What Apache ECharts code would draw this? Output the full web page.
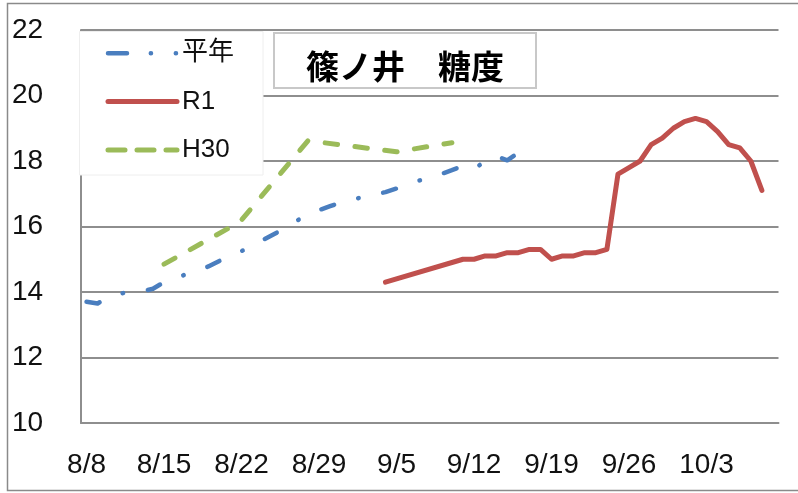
<!DOCTYPE html>
<html>
<head>
<meta charset="utf-8">
<script src="https://cdn.jsdelivr.net/npm/echarts@6/dist/echarts.min.js"></script>
<style>
html,body{margin:0;padding:0;background:#fff;}
#chart{width:798px;height:493px;}
</style>
</head>
<body>
<div id="chart"></div>
<script>
// ---- data ----
const titleText = '篠ノ井　糖度';
const seriesNames = ['平年', 'R1', 'H30'];
const yTicks = [10, 12, 14, 16, 18, 20, 22];
const xTickLabels = ['8/8', '8/15', '8/22', '8/29', '9/5', '9/12', '9/19', '9/26', '10/3'];

// 平年: daily values from 8/8 to 9/16
const avgValues = [13.7, 13.65, 13.85, 13.95, 14.0, 14.02, 14.1, 14.3, 14.42, 14.54,
  14.66, 14.78, 14.95, 15.1, 15.25, 15.4, 15.6, 15.78, 15.96, 16.18,
  16.36, 16.5, 16.62, 16.74, 16.82, 16.9, 16.97, 17.05, 17.16, 17.3,
  17.4, 17.49, 17.6, 17.72, 17.85, 17.75, 18.0, 18.15, 18.02, 18.25];

// R1
const r1Dates = ['9/4', '9/11', '9/12', '9/13', '9/14', '9/15', '9/16', '9/17', '9/18', '9/19',
  '9/20', '9/21', '9/22', '9/23', '9/24', '9/25', '9/26', '9/27', '9/28', '9/29',
  '9/30', '10/1', '10/2', '10/3', '10/4', '10/5', '10/6', '10/7', '10/8'];
const r1Values = [14.3, 15.0, 15.0, 15.1, 15.1, 15.2, 15.2, 15.3, 15.3, 15.0,
  15.1, 15.1, 15.2, 15.2, 15.3, 17.6, 17.8, 18.0, 18.5, 18.7,
  19.0, 19.2, 19.3, 19.2, 18.9, 18.5, 18.4, 18.0, 17.1];

// H30
const h30Dates = ['8/15', '8/21', '8/22', '8/28', '9/5', '9/10'];
const h30Values = [14.85, 15.98, 16.2, 18.62, 18.28, 18.56];

// daily categories 8/8 .. 10/9
const categories = [];
(function () {
  const d = new Date(2019, 7, 8);
  for (let i = 0; i < 63; i++) {
    categories.push((d.getMonth() + 1) + '/' + d.getDate());
    d.setDate(d.getDate() + 1);
  }
})();

const pair = (dates, vals) => dates.map((c, i) => [c, vals[i]]);

const BLUE = '#4a7ebf', RED = '#c0504d', GREEN = '#9bbb59';
const GRID = '#8e8e8e';
const NUMFONT = 'Liberation Sans';
const NOSYM = { color: 'rgba(0,0,0,0)', borderWidth: 0, opacity: 0 };

const chart = echarts.init(document.getElementById('chart'), null, { renderer: 'canvas' });
chart.setOption({
  animation: false,
  backgroundColor: '#fff',
  title: {
    text: titleText,
    left: 274, top: 33,
    padding: [13, 32, 2, 32],
    backgroundColor: '#fff',
    borderColor: '#c8c8c8',
    borderWidth: 2,
    z: 10,
    textStyle: { fontSize: 33, fontWeight: 'bold', color: '#000', fontFamily: 'Noto Sans CJK JP', lineHeight: 40 }
  },
  grid: { left: 81, top: 30, width: 697.5, height: 393 },
  graphic: [
    { type: 'rect', z: 0, silent: true,
      shape: { x: 7.5, y: 3.5, width: 820, height: 487 },
      style: { fill: 'none', stroke: '#8a8a8a', lineWidth: 1.5 } },
    { type: 'rect', z: 5, silent: true,
      shape: { x: 79.5, y: 31.5, width: 183.5, height: 143.5 },
      style: { fill: '#fff', stroke: '#eeeeee', lineWidth: 1 } }
  ],
  legend: {
    orient: 'vertical',
    left: 105.5, top: 38.3,
    padding: 0,
    itemWidth: 69, itemHeight: 14, itemGap: 18.3, itemTextGap: 7,
    z: 10,
    lineStyle: { width: 5, cap: 'round' },
    itemStyle: NOSYM,
    textStyle: { fontSize: 26, color: '#111', fontFamily: 'Liberation Sans, Noto Sans CJK JP', lineHeight: 30 },
    data: [
      { name: seriesNames[0], itemStyle: NOSYM, lineStyle: { width: 4.5, color: BLUE, type: [19, 23.8, 0.2, 24.8, 0.2, 60], cap: 'round' } },
      { name: seriesNames[1], itemStyle: NOSYM, lineStyle: { width: 5, color: RED, type: 'solid', cap: 'round' } },
      { name: seriesNames[2], itemStyle: NOSYM, lineStyle: { width: 5, color: GREEN, type: [17, 12], cap: 'round' } }
    ]
  },
  xAxis: {
    type: 'category',
    data: categories,
    boundaryGap: true,
    axisLine: { show: true, lineStyle: { color: GRID, width: 2 } },
    axisTick: { show: false },
    splitLine: { show: false },
    axisLabel: {
      interval: 6, margin: 28,
      fontSize: 28, color: '#111', fontFamily: NUMFONT,
      formatter: v => (xTickLabels.indexOf(v) >= 0 ? v : '')
    }
  },
  yAxis: {
    type: 'value',
    min: yTicks[0], max: yTicks[yTicks.length - 1], interval: 2,
    axisLine: { show: true, lineStyle: { color: GRID, width: 2 } },
    axisTick: { show: false },
    splitLine: { show: true, lineStyle: { color: GRID, width: 2 } },
    axisLabel: { align: 'left', margin: 69, fontSize: 28, color: '#111', fontFamily: NUMFONT }
  },
  series: [
    {
      name: seriesNames[0], type: 'line', symbol: 'none', smooth: false, z: 3,
      data: avgValues,
      lineStyle: { color: BLUE, width: 4.5, type: [13.5, 25, 0.5, 25], cap: 'round', join: 'round' },
      itemStyle: { color: BLUE }
    },
    {
      name: seriesNames[1], type: 'line', symbol: 'none', smooth: false, z: 3,
      data: pair(r1Dates, r1Values),
      lineStyle: { color: RED, width: 5, type: 'solid', cap: 'round', join: 'round' },
      itemStyle: { color: RED }
    },
    {
      name: seriesNames[2], type: 'line', symbol: 'none', smooth: false, z: 3,
      data: pair(h30Dates, h30Values),
      lineStyle: { color: GREEN, width: 5, type: [12.5, 17.5], cap: 'round', join: 'round' },
      itemStyle: { color: GREEN }
    }
  ]
});
</script>
</body>
</html>
